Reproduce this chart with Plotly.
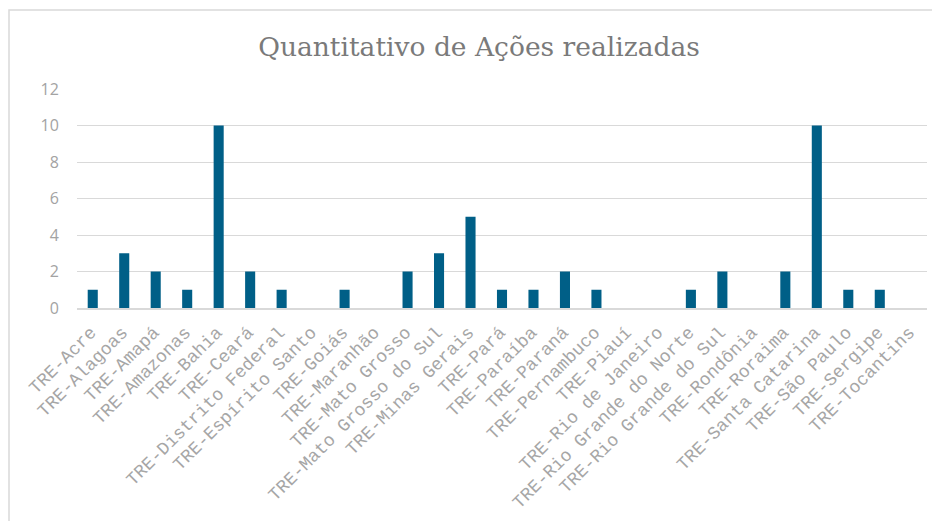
import plotly.graph_objects as go

categories = ["TRE-Acre", "TRE-Alagoas", "TRE-Amapá", "TRE-Amazonas", "TRE-Bahia", "TRE-Ceará",
              "TRE-Distrito Federal", "TRE-Espírito Santo", "TRE-Goiás", "TRE-Maranhão",
              "TRE-Mato Grosso", "TRE-Mato Grosso do Sul", "TRE-Minas Gerais", "TRE-Pará",
              "TRE-Paraíba", "TRE-Paraná", "TRE-Pernambuco", "TRE-Piauí", "TRE-Rio de Janeiro",
              "TRE-Rio Grande do Norte", "TRE-Rio Grande do Sul", "TRE-Rondônia", "TRE-Roraima",
              "TRE-Santa Catarina", "TRE-São Paulo", "TRE-Sergipe", "TRE-Tocantins"]
values = [1, 3, 2, 1, 10, 2, 1, 0, 1, 0, 2, 3, 5, 1, 1, 2, 1, 0, 0, 1, 2, 0, 2, 10, 1, 1, 0]
y_ticks = [0, 2, 4, 6, 8, 10, 12]

title_text = "Quantitativo de Ações realizadas"

# page has an 8px body margin; figure sized to fill the rest of the window
OFF = 8
W, H = 940 - OFF, 521 - OFF
L, R, T, B = 77 - OFF, 13, 89 - OFF, 213

fig = go.Figure(go.Bar(x=categories, y=values, marker=dict(color="#005F87", line=dict(width=0)),
                       hoverinfo="x+y"))

fig.update_layout(
    width=W, height=H,
    margin=dict(l=L, r=R, t=T, b=B, autoexpand=False),
    paper_bgcolor="white", plot_bgcolor="white",
    bargap=0.68,
    showlegend=False,
    title=dict(text=title_text, x=(479 - OFF) / W, xanchor="center", xref="container",
               y=1 - (47 - OFF) / H, yanchor="middle", yref="container",
               font=dict(family="DejaVu Serif", size=26.5, color="#7a7a7a")),
    xaxis=dict(tickangle=-45, tickfont=dict(family="Liberation Mono", size=18, color="#a6a6a6"),
               showgrid=False, showline=True, linecolor="#d9d9d9", linewidth=1.5,
               ticks="outside", ticklen=5, tickcolor="rgba(0,0,0,0)", ticklabelshift=-2,
               automargin=False),
    yaxis=dict(range=[0, 12], tickvals=y_ticks, showgrid=True, gridcolor="#d9d9d9", gridwidth=1,
               zeroline=False, showline=False, ticks="outside", ticklen=14,
               tickcolor="rgba(0,0,0,0)",
               tickfont=dict(family="Open Sans", size=16, color="#a3a3a3"), automargin=False),
)

pw, ph = W - L - R, H - T - B
x_left = (9 - 77) / pw
y_top = (308 - 10) / ph
fig.add_shape(type="path", xref="paper", yref="paper",
              path=f"M {x_left} {(308 - 540) / ph} L {x_left} {y_top} L {(960 - 77) / pw} {y_top}",
              line=dict(color="#d9d9d9", width=1.5))

fig.write_html("out.html")
